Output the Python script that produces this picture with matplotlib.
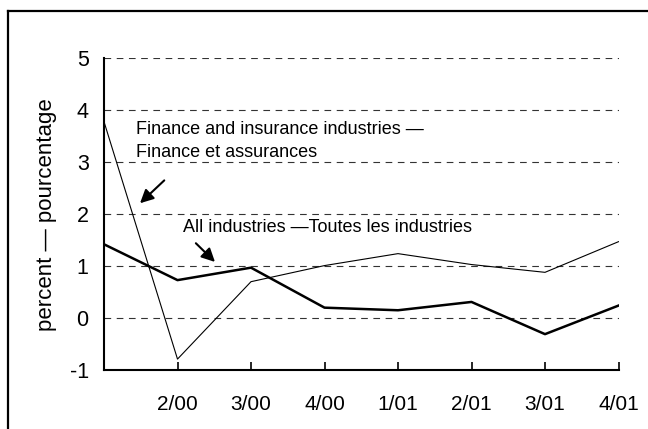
import matplotlib
matplotlib.use("Agg")
import matplotlib.pyplot as plt
from matplotlib.lines import Line2D

plt.rcParams['font.family'] = ['Liberation Sans', 'DejaVu Sans']

quarters = ["1/00", "2/00", "3/00", "4/00", "1/01", "2/01", "3/01", "4/01"]
tick_labels = ["", "2/00", "3/00", "4/00", "1/01", "2/01", "3/01", "4/01"]
finance = [3.78, -0.79, 0.70, 1.01, 1.24, 1.03, 0.88, 1.47]
all_ind = [1.42, 0.73, 0.97, 0.20, 0.15, 0.31, -0.31, 0.24]
yticks = [-1, 0, 1, 2, 3, 4, 5]

fig = plt.figure(figsize=(6.48, 4.29), dpi=100)
ax = fig.add_axes([104/648, 1-370/429, (618.5-104)/648, (370-58.3)/429])

x = list(range(len(quarters)))
for yv in yticks[1:]:
    ax.axhline(yv, color='#333333', lw=0.8, dashes=(6, 5), zorder=1)
ax.plot(x, finance, color='black', lw=0.8, zorder=3)
ax.plot(x, all_ind, color='black', lw=1.8, zorder=3)

ax.set_xlim(0, len(quarters) - 1)
ax.set_ylim(-1, 5)
ax.set_xticks(x[1:])
ax.set_xticklabels(tick_labels[1:])
ax.set_yticks(yticks)
ax.set_yticklabels([str(v) for v in yticks])
ax.tick_params(axis='x', direction='in', length=6, width=1.2, pad=18, labelsize=15)
ax.tick_params(axis='y', length=0, pad=11, labelsize=15.5)
for s in ['top', 'right']:
    ax.spines[s].set_visible(False)
for s in ['left', 'bottom']:
    ax.spines[s].set_linewidth(1.5)
ax.set_ylabel("percent — pourcentage", fontsize=16, labelpad=9)

ax.text(0.44, 3.63, "Finance and insurance industries —", fontsize=13, va='center', ha='left')
ax.text(0.44, 3.18, "Finance et assurances", fontsize=13, va='center', ha='left')
ax.text(1.07, 1.745, "All industries —Toutes les industries", fontsize=13, va='center', ha='left')

ax.annotate("", xy=(0.49, 2.21), xytext=(0.82, 2.65),
            arrowprops=dict(arrowstyle='-|>', color='black', lw=1.5, mutation_scale=20, shrinkA=0, shrinkB=0))
ax.annotate("", xy=(1.51, 1.08), xytext=(1.25, 1.44),
            arrowprops=dict(arrowstyle='-|>', color='black', lw=1.5, mutation_scale=20, shrinkA=0, shrinkB=0))

fig.add_artist(Line2D([7.5/648, 7.5/648], [0, 1-10.5/429], transform=fig.transFigure, color='black', lw=1.6))
fig.add_artist(Line2D([7.5/648, 1], [1-10.5/429, 1-10.5/429], transform=fig.transFigure, color='black', lw=1.6))

fig.savefig("out.png", dpi=100)
